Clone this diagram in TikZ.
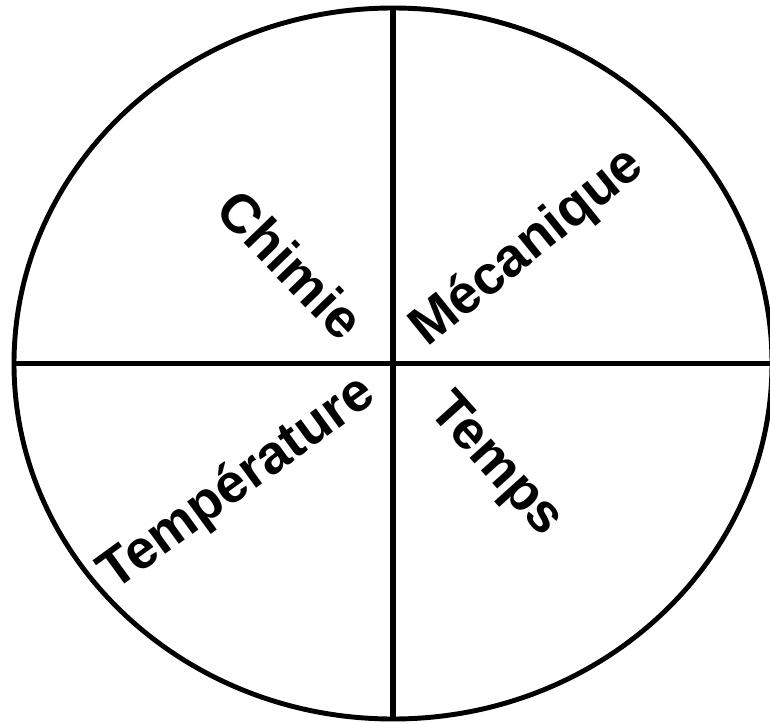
\documentclass[tikz,border=0pt]{standalone}
\usepackage{fontspec}
\setmainfont{Liberation Sans}
\usetikzlibrary{calc}

\begin{document}
\begin{tikzpicture}[x=0.02cm,y=-0.02cm,
    rim/.style={line width=2.8pt},
    divider/.style={line width=3pt},
    field/.style={font=\fontsize{31}{37}\selectfont\bfseries,inner sep=0pt}]
  \useasboundingbox (0,0) rectangle (770,723);
  \coordinate (O) at (393,363.5);
  \draw[rim] (O) ellipse [x radius=379, y radius=355.5];
  \coordinate (N) at (393,8);
  \coordinate (S) at (393,719);
  \coordinate (W) at (14,363.5);
  \coordinate (E) at (772,363.5);
  \draw[divider] (N) -- (S);
  \draw[divider] (W) -- (E);
  \node[field,rotate=-46] (chimie) at (291,264) {Chimie};
  \node[field,rotate=39] (mecanique) at (528,248) {Mécanique};
  \node[field,rotate=36] (temperature) at (238,484) {Température};
  \node[field,rotate=-48] (temps) at (495,466) {Temps};
\end{tikzpicture}
\end{document}
